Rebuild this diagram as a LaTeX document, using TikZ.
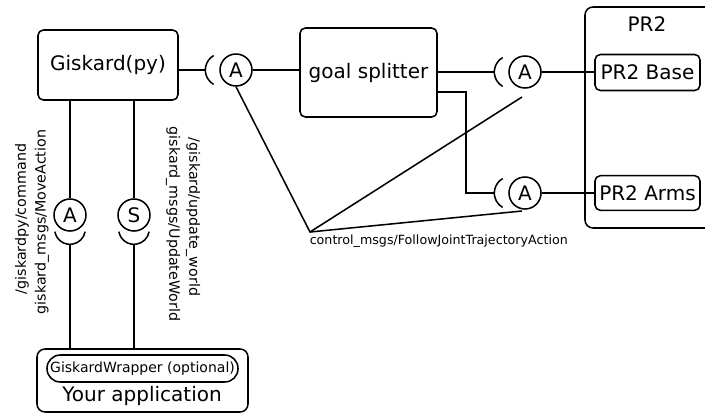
\documentclass[tikz,border=0pt]{standalone}
\usepackage{fontspec}
\setmainfont{DejaVu Sans}
\begin{document}
\begin{tikzpicture}[x=0.75pt,y=-0.75pt,line width=1.15pt,
  box/.style={draw,rounded corners=4pt,inner sep=0pt,font=\fontsize{15}{18}\selectfont},
  port/.style={draw,circle,minimum size=24pt,inner sep=0pt,font=\fontsize{15}{18}\selectfont},
  topic/.style={inner sep=0pt,font=\fontsize{10.7}{13}\selectfont}]
  \useasboundingbox (0,0) rectangle (705,414);

  % Components
  \node[box,minimum width=105pt,minimum height=52.5pt] (giskard) at (108,65) {Giskard(py)};
  \node[box,minimum width=102.75pt,minimum height=66.75pt] (splitter) at (368.5,72.5) {goal splitter};
  \node[box,rounded corners=6pt,minimum width=97.5pt,minimum height=165.75pt] (pr2) at (650,117.5) {};
  \node[font=\fontsize{15}{18}\selectfont] (pr2label) at (647,24) {PR2};
  \node[box,minimum width=78.75pt,minimum height=27pt] (base) at (647.5,72.5) {PR2 Base};
  \node[box,minimum width=78.75pt,minimum height=26pt] (arms) at (647.5,193) {PR2 Arms};

  % Your application
  \node[box,rounded corners=6pt,minimum width=158.25pt,minimum height=47.25pt] (app) at (142.5,380.5) {};
  \node[draw,rounded corners=10pt,inner sep=0pt,minimum width=143.25pt,minimum height=20.25pt,
    font=\fontsize{10.5}{13}\selectfont] (wrapper) at (142.5,368.5) {GiskardWrapper (optional)};
  \node[font=\fontsize{15}{18}\selectfont] (applabel) at (142,396) {Your application};

  % Ports
  \node[port] (act) at (236,70) {A};
  \node[port] (actbase) at (525,72) {A};
  \node[port] (actarms) at (525,193) {A};
  \node[port] (actmove) at (70,215) {A};
  \node[port] (srvworld) at (134,215) {S};

  % Sockets
  \draw ([xshift=-10.5pt]act.center) ++(120:12.5pt) arc[start angle=120,end angle=240,radius=12.5pt];
  \draw ([xshift=-10.5pt]actbase.center) ++(120:12.5pt) arc[start angle=120,end angle=240,radius=12.5pt];
  \draw ([xshift=-10.5pt]actarms.center) ++(120:12.5pt) arc[start angle=120,end angle=240,radius=12.5pt];
  \draw ([yshift=-10.5pt]actmove.center) ++(190:11.5pt) arc[start angle=190,end angle=350,radius=11.5pt];
  \draw ([yshift=-10.5pt]srvworld.center) ++(190:11.5pt) arc[start angle=190,end angle=350,radius=11.5pt];

  % Connections
  \draw (act -| giskard.east) -- ([xshift=-23pt]act.center);
  \draw (act.east) -- (act -| splitter.west);
  \draw (actbase -| splitter.east) -- ([xshift=-23pt]actbase.center);
  \draw ([yshift=-14.6pt]splitter.east) -| ([xshift=-44.25pt]actarms.center) -- ([xshift=-23pt]actarms.center);
  \draw (actbase.east) -- (actbase -| base.west);
  \draw (actarms.east) -- (actarms -| arms.west);
  \draw (actmove |- giskard.south) -- (actmove.north);
  \draw (srvworld |- giskard.south) -- (srvworld.north);
  \draw ([yshift=-22pt]actmove.center) -- (actmove |- app.north);
  \draw ([yshift=-22pt]srvworld.center) -- (srvworld |- app.north);

  % Trajectory action
  \coordinate (hub) at (310,232);
  \coordinate (basetip) at (522,97);
  \coordinate (armstip) at (522,211);
  \draw (act.south) -- (hub) -- (basetip);
  \draw (hub) -- (armstip);
  \node[anchor=west,inner sep=0pt,font=\fontsize{9.5}{12}\selectfont] (ctrllabel) at (309,241)
    {control\_msgs/FollowJointTrajectoryAction};

  % Topic labels
  \node[topic,rotate=90] (cmdlabel) at (22,219) {/giskardpy/command};
  \node[topic,rotate=90] (movelabel) at (42,222) {giskard\_msgs/MoveAction};
  \node[topic,rotate=-90] (updlabel) at (173,224) {giskard\_msgs/UpdateWorld};
  \node[topic,rotate=-90] (worldlabel) at (193,217) {/giskard/update\_world};
\end{tikzpicture}
\end{document}
